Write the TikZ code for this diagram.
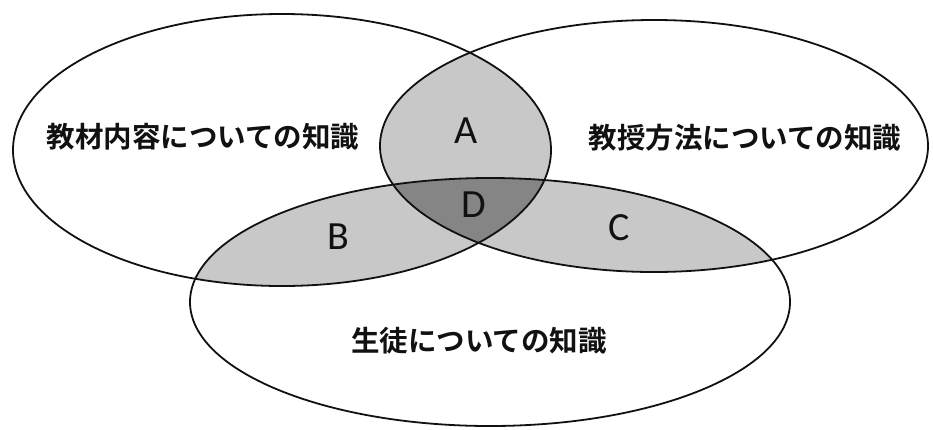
\documentclass[tikz,border=0pt]{standalone}
\usepackage{fontspec}
\usepackage{xcolor}
\usepackage{tikz}
\usetikzlibrary{positioning}
\setmainfont{Carlito}
\newfontfamily\jp{Noto Sans CJK JP}[BoldFont=* Bold]
\definecolor{vennink}{HTML}{111111}
\definecolor{vennpair}{HTML}{C8C8C8}
\definecolor{venncore}{HTML}{858585}
% the three sets, in pixel coordinates
\newcommand{\setK}{(282,150) ellipse [x radius=269pt, y radius=136pt]}
\newcommand{\setM}{(654,146) ellipse [x radius=274pt, y radius=126pt]}
\newcommand{\setS}{(490,302) ellipse [x radius=300pt, y radius=124pt]}

\begin{document}
\begin{tikzpicture}[x=1pt, y=-1pt,
  ring/.style={draw=vennink, line width=1.8pt},
  set/.style={font=\jp\bfseries\fontsize{28.5}{30}\selectfont, text=vennink, inner sep=0pt},
  part/.style={font=\fontsize{40}{42}\selectfont, text=vennink, inner sep=0pt}]
  \useasboundingbox[fill=white] (0,0) rectangle (933,429);
  % pairwise overlaps
  \begin{scope}
    \clip \setK;
    \fill[vennpair] \setM;
    \fill[vennpair] \setS;
  \end{scope}
  \begin{scope}
    \clip \setM;
    \fill[vennpair] \setS;
  \end{scope}
  % all three
  \begin{scope}
    \clip \setK;
    \clip \setM;
    \fill[venncore] \setS;
  \end{scope}
  \draw[ring] \setK;
  \draw[ring] \setM;
  \draw[ring] \setS;
  \node[set] (content) at (203,137) {教材内容についての知識};
  \node[set] (method) at (745,138) {教授方法についての知識};
  \node[set] (pupil) at (479,341) {生徒についての知識};
  \node[part] (a) at (466,131) {A};
  \node[part] (b) at (338,237) {B};
  \node[part] (c) at (619,228) {C};
  \node[part] (d) at (474,205) {D};
\end{tikzpicture}
\end{document}
